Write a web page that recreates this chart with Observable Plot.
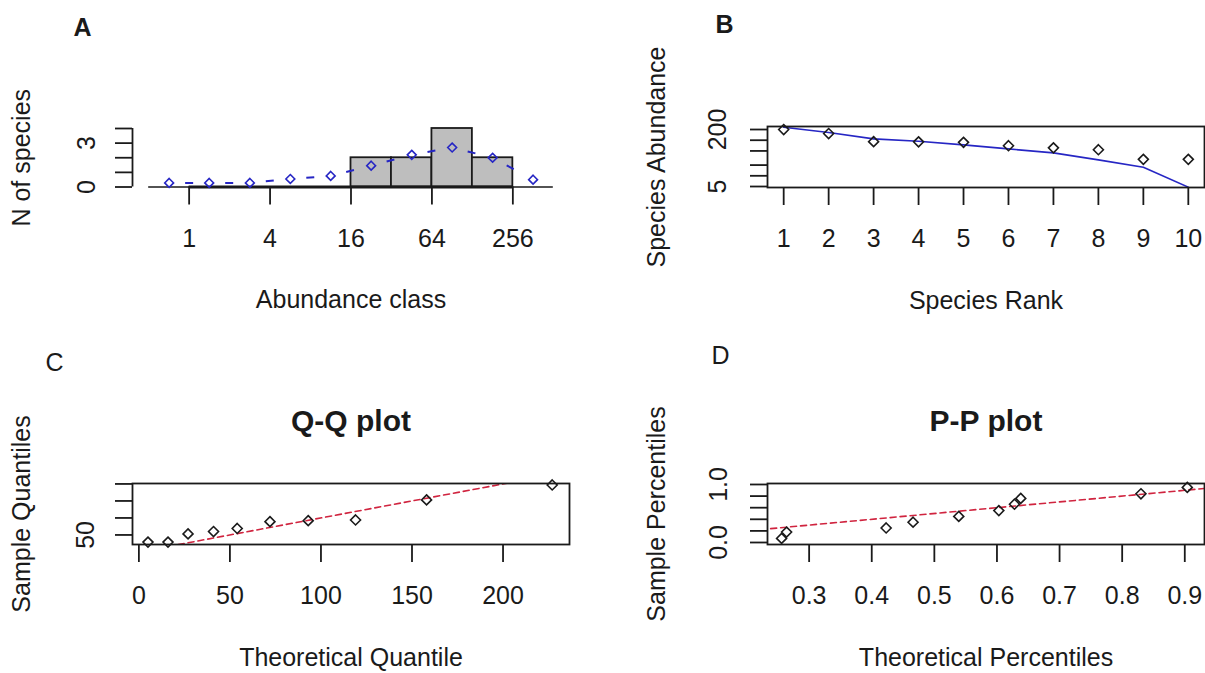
<!DOCTYPE html>
<html><head><meta charset="utf-8">
<script src="https://cdn.jsdelivr.net/npm/d3@7"></script>
<script src="https://cdn.jsdelivr.net/npm/@observablehq/plot@0.6"></script>
<style>
html,body{margin:0;padding:0;background:#fff;}
#wrap{position:relative;width:1205px;height:673px;overflow:hidden;background:#fff;}
.panel{position:absolute;}
.panel svg{overflow:visible;}
</style></head><body><div id="wrap"></div>
<script>
// ---------- Panel A : Preston octave plot ----------
const octaveLo = [1, 2, 4, 8, 16, 32, 64, 128];
const octaveHi = [2, 4, 8, 16, 32, 64, 128, 256];
const octaveCounts = [0, 0, 0, 0, 2, 2, 4, 2];
const prestonX = [0.71, 1.41, 2.83, 5.66, 11.3, 22.6, 45.3, 90.5, 181, 362];
const prestonFit = [0.28, 0.28, 0.28, 0.55, 0.76, 1.46, 2.2, 2.7, 2.0, 0.5];
const prestonBaseline = [0.5, 512];
const abundanceClassTicks = [1, 4, 16, 64, 256];
const nSpeciesTicks = [0, 1, 2, 3, 4];
const nSpeciesLabels = [0, 3];

// ---------- Panel B : rank abundance ----------
const ranks = [1, 2, 3, 4, 5, 6, 7, 8, 9, 10];
const abundance = [200, 154, 91, 90, 87, 70, 61, 54, 29, 29];
const radFit = [232, 164, 109, 94, 74, 57, 44, 28, 17.4, 4.8];
const abundanceTicks = [5, 10, 20, 50, 100, 200];
const abundanceLabels = [5, 200];

// ---------- Panel C : Q-Q plot ----------
const theoQuantile = [5, 16, 27, 41, 54, 72, 93, 119, 158, 227];
const sampleQuantile = [29, 29, 53, 60, 69, 89, 92, 94, 153, 197];
const qqReference = [0, 250];
const qqXTicks = [0, 50, 100, 150, 200];
const qqYTicks = [50, 100, 150, 200];
const qqYLabels = [50];

// ---------- Panel D : P-P plot ----------
const theoPercentile = [0.256, 0.264, 0.423, 0.466, 0.539, 0.603, 0.628, 0.638, 0.830, 0.904];
const samplePercentile = [0.07, 0.18, 0.25, 0.35, 0.45, 0.55, 0.66, 0.76, 0.84, 0.95];
const ppReference = [0, 1];
const ppXTicks = [0.3, 0.4, 0.5, 0.6, 0.7, 0.8, 0.9];
const ppYTicks = [0, 0.2, 0.4, 0.6, 0.8, 1.0];
const ppYLabels = [0, 1.0];

// ---------- helpers ----------
const FONT = "'Liberation Sans', Arial, Helvetica, sans-serif";
const INK = "#1a1a1a";
const BLUE = "#2626c4";
const RED = "#d0243f";
const LW = 1.8;
const wrap = document.getElementById("wrap");

function place(svg, left, top) {
  const d = document.createElement("div");
  d.className = "panel";
  d.style.left = left + "px";
  d.style.top = top + "px";
  d.appendChild(svg);
  wrap.appendChild(d);
}
function makePlot(o) {
  return Plot.plot({
    width: o.width, height: o.height,
    marginLeft: o.mL, marginRight: o.mR, marginTop: o.mT, marginBottom: o.mB,
    x: o.x, y: o.y,
    style: {fontFamily: FONT, fontSize: "25px", color: INK, background: "transparent", overflow: "visible"},
    marks: o.marks
  });
}
const centered = {textAnchor: "middle", lineAnchor: "middle"};
const xAxis = (ticks, fmt) => Plot.axisX({ticks, tickFormat: fmt, tickSize: 18, tickPadding: 24, strokeWidth: LW, stroke: INK, fill: INK, fontSize: 25, label: null});
const yTicks = (ticks) => Plot.axisY({ticks, tickFormat: () => "", tickSize: 17, tickPadding: 0, strokeWidth: LW, stroke: INK, label: null});
const yLabels = (vals, fmt, dx) => Plot.text(vals, {y: d => d, text: fmt, frameAnchor: "left", dx, rotate: -90, fontSize: 25, fill: INK, ...centered});
const xTitle = (t) => Plot.text([t], {text: d => d, frameAnchor: "bottom", dy: 113, fontSize: 25, fill: INK, ...centered});
const yTitle = (t) => Plot.text([t], {text: d => d, frameAnchor: "left", dx: -111, rotate: -90, fontSize: 25, fill: INK, ...centered});
const letter = (t, dx, dy, w) => Plot.text([t], {text: d => d, frameAnchor: "top-left", dx, dy, fontSize: 25, fontWeight: w, fill: INK, ...centered});
const mainTitle = (t) => Plot.text([t], {text: d => d, frameAnchor: "top", dy: -62, fontSize: 30, fontWeight: "bold", fill: INK, ...centered});

// ---------- Panel A ----------
const bins = octaveLo.map((lo, i) => ({lo, hi: octaveHi[i], count: octaveCounts[i]}));
const preston = prestonX.map((x, i) => ({x, y: prestonFit[i]}));
const aDomainX = [0.379, 675.6];
place(makePlot({
  width: 602, height: 336, mL: 132, mR: 33, mT: 128, mB: 149.5,
  x: {type: "log", base: 2, domain: aDomainX},
  y: {domain: [0, 4]},
  marks: [
    Plot.ruleY([0], {x1: prestonBaseline[0], x2: prestonBaseline[1], stroke: INK, strokeWidth: 1.5}),
    Plot.rect(bins.filter(d => d.count > 0), {x1: "lo", x2: "hi", y1: 0, y2: "count", fill: "#bebebe", stroke: INK, strokeWidth: LW}),
    Plot.ruleY([0], {x1: abundanceClassTicks[0], x2: abundanceClassTicks[abundanceClassTicks.length - 1], stroke: INK, strokeWidth: 3}),
    Plot.ruleX([aDomainX[0]], {y1: nSpeciesTicks[0], y2: nSpeciesTicks[nSpeciesTicks.length - 1], stroke: INK, strokeWidth: LW}),
    yTicks(nSpeciesTicks),
    xAxis(abundanceClassTicks, d => String(d)),
    yLabels(nSpeciesLabels, d => String(d), -46),
    Plot.link(d3.pairs(preston), {x1: d => d[0].x, y1: d => d[0].y, x2: d => d[1].x, y2: d => d[1].y,
      stroke: BLUE, strokeWidth: 2, strokeDasharray: "0 16 8 100"}),
    Plot.dot(preston, {x: "x", y: "y", symbol: "diamond2", r: 4, stroke: BLUE, strokeWidth: 1.6, fill: "none"}),
    xTitle("Abundance class"),
    yTitle("N of species"),
    letter("A", -50, -101, "bold")
  ]
}), 0, 0);

// ---------- Panel B ----------
const rad = ranks.map((r, i) => ({r, a: abundance[i], f: radFit[i]}));
place(makePlot({
  width: 603, height: 336, mL: 165, mR: 1, mT: 126, mB: 149,
  x: {domain: [0.64, 10.36]},
  y: {type: "log", domain: [4.69, 243]},
  marks: [
    Plot.line(rad, {x: "r", y: "f", stroke: BLUE, strokeWidth: 1.6, clip: true}),
    Plot.dot(rad, {x: "r", y: "a", symbol: "diamond2", r: 4.5, stroke: INK, strokeWidth: 1.6, fill: "none"}),
    Plot.frame({stroke: INK, strokeWidth: LW}),
    yTicks(abundanceTicks),
    xAxis(ranks, d => String(d)),
    yLabels(abundanceLabels, d => String(d), -50),
    xTitle("Species Rank"),
    yTitle("Species Abundance"),
    letter("B", -43, -102, "bold")
  ]
}), 602, 0);

// ---------- Panel C ----------
const qq = theoQuantile.map((t, i) => ({t, s: sampleQuantile[i]}));
place(makePlot({
  width: 602, height: 337, mL: 132, mR: 33, mT: 147, mB: 129,
  x: {domain: [-3.5, 236.5]},
  y: {domain: [21.9, 201.3]},
  marks: [
    Plot.line(qqReference.map(v => ({x: v, y: v})), {x: "x", y: "y", stroke: RED, strokeWidth: 1.6, strokeDasharray: "6,4", clip: true}),
    Plot.dot(qq, {x: "t", y: "s", symbol: "diamond2", r: 4.5, stroke: INK, strokeWidth: 1.6, fill: "none"}),
    Plot.frame({stroke: INK, strokeWidth: LW}),
    yTicks(qqYTicks),
    xAxis(qqXTicks, d => String(d)),
    yLabels(qqYLabels, d => String(d), -47),
    xTitle("Theoretical Quantile"),
    yTitle("Sample Quantiles"),
    mainTitle("Q-Q plot"),
    letter("C", -78, -121, "normal")
  ]
}), 0, 336);

// ---------- Panel D ----------
const pp = theoPercentile.map((t, i) => ({t, s: samplePercentile[i]}));
const f1 = d3.format(".1f");
place(makePlot({
  width: 603, height: 337, mL: 165, mR: 1, mT: 147, mB: 129,
  x: {domain: [0.2335, 0.9315]},
  y: {domain: [-0.0345, 1.017]},
  marks: [
    Plot.line(ppReference.map(v => ({x: v, y: v})), {x: "x", y: "y", stroke: RED, strokeWidth: 1.6, strokeDasharray: "6,4", clip: true}),
    Plot.dot(pp, {x: "t", y: "s", symbol: "diamond2", r: 4.5, stroke: INK, strokeWidth: 1.6, fill: "none"}),
    Plot.frame({stroke: INK, strokeWidth: LW}),
    yTicks(ppYTicks),
    xAxis(ppXTicks, f1),
    yLabels(ppYLabels, f1, -49),
    xTitle("Theoretical Percentiles"),
    yTitle("Sample Percentiles"),
    mainTitle("P-P plot"),
    letter("D", -47, -128, "normal")
  ]
}), 602, 336);
</script>
</body></html>
